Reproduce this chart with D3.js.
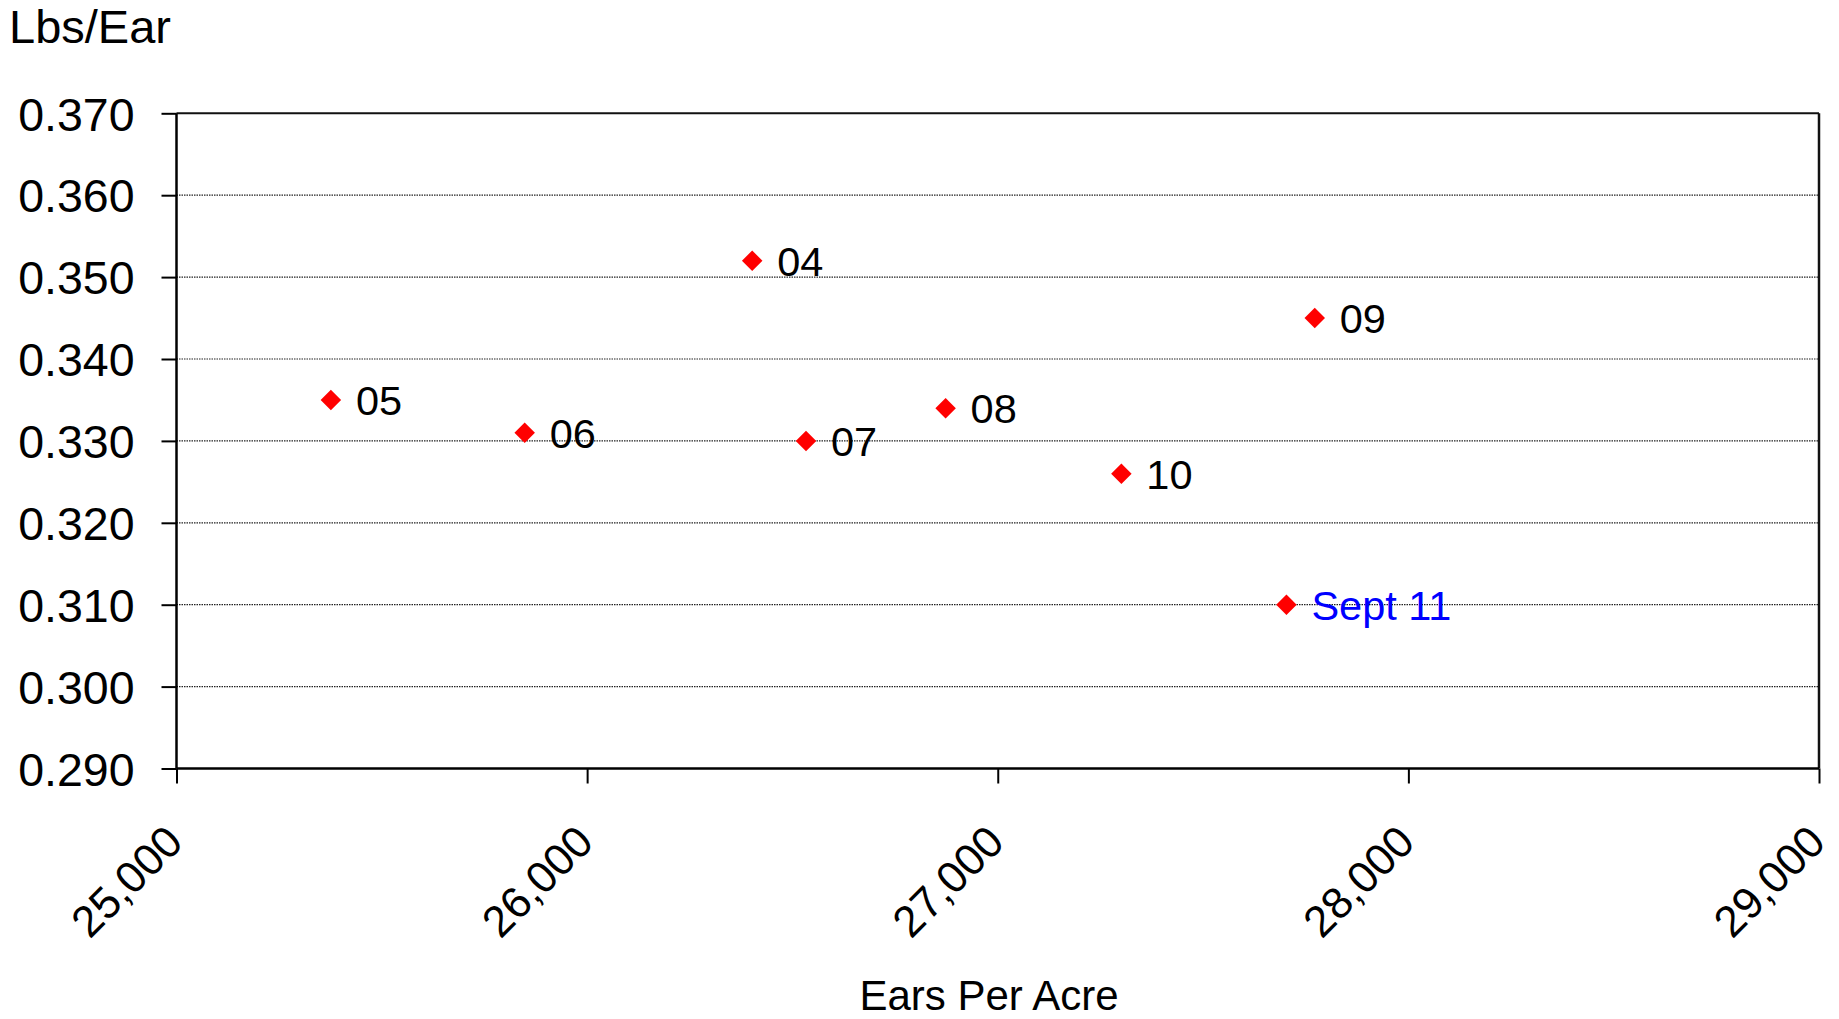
<!DOCTYPE html>
<html>
<head>
<meta charset="utf-8">
<script src="https://cdn.jsdelivr.net/npm/d3@7"></script>
<style>
  body { margin: 0; background: #fff; }
  text { font-family: "Liberation Sans", Arial, sans-serif; }
</style>
</head>
<body>
<svg id="chart" width="1839" height="1019"></svg>
<script>
// data
var labels = ["04", "05", "06", "07", "08", "09", "10", "Sept 11"];
var earsPerAcre = [26402, 25376, 25848, 26533, 26873, 27772, 27301, 27703];
var lbsPerEar = [0.352, 0.335, 0.331, 0.330, 0.334, 0.345, 0.326, 0.310];
var labelColors = ["#000", "#000", "#000", "#000", "#000", "#000", "#000", "#0000ff"];

var xTicks = [25000, 26000, 27000, 28000, 29000];
var yTicks = [0.290, 0.300, 0.310, 0.320, 0.330, 0.340, 0.350, 0.360, 0.370];

var plotLeft = 176.5, plotRight = 1819, plotTop = 113.3, plotBottom = 768.5;

var svg = d3.select('#chart');

var x = d3.scaleLinear().domain([25000, 29000]).range([plotLeft, plotRight]);
var y = d3.scaleLinear().domain([0.290, 0.370]).range([plotBottom, plotTop]);

var points = labels.map(function(l, i) {
	return {label: l, ex: earsPerAcre[i], lb: lbsPerEar[i], color: labelColors[i]};
});

// grid lines (dotted)
svg.append('g')
	.selectAll('line')
	.data(yTicks.slice(1, -1))
	.enter()
	.append('line')
	.attr('x1', plotLeft)
	.attr('x2', plotRight)
	.attr('y1', function(d) { return y(d); })
	.attr('y2', function(d) { return y(d); })
	.style('stroke', '#222')
	.style('stroke-width', 1.2)
	.style('stroke-dasharray', '1.5,1');

// top and right border
svg.append('line')
	.attr('x1', plotLeft).attr('x2', plotRight)
	.attr('y1', plotTop).attr('y2', plotTop)
	.style('stroke', '#111').style('stroke-width', 2);
svg.append('line')
	.attr('x1', plotRight).attr('x2', plotRight)
	.attr('y1', plotTop).attr('y2', plotBottom)
	.style('stroke', '#111').style('stroke-width', 2.5);

// y axis
var yAxis = svg.append('g')
	.attr('transform', 'translate(' + plotLeft + ',0)')
	.call(d3.axisLeft(y).tickValues(yTicks).tickFormat(d3.format('.3f')).tickSize(15).tickPadding(27));
yAxis.select('.domain').style('stroke', '#000').style('stroke-width', 2.5)
	.attr('d', 'M0,' + plotTop + 'V' + plotBottom);
yAxis.selectAll('.tick line').style('stroke', '#000').style('stroke-width', 2);
yAxis.selectAll('.tick text')
	.style('font-size', '46.5px')
	.style('fill', '#000')
	.attr('dy', '0.36em');

// x axis
var xAxis = svg.append('g')
	.attr('transform', 'translate(0,' + plotBottom + ')')
	.call(d3.axisBottom(x).tickValues(xTicks).tickFormat(d3.format(',')).tickSize(15));
xAxis.select('.domain').style('stroke', '#000').style('stroke-width', 2.5)
	.attr('d', 'M' + plotLeft + ',0H' + plotRight);
xAxis.selectAll('.tick line').style('stroke', '#000').style('stroke-width', 2);
xAxis.selectAll('.tick text')
	.style('font-size', '44px')
	.style('fill', '#000')
	.attr('text-anchor', 'end')
	.attr('x', 0)
	.attr('y', 0)
	.attr('dy', 0)
	.attr('transform', 'translate(8,76) rotate(-45)');

// axis titles
svg.append('text')
	.attr('x', 9)
	.attr('y', 43)
	.style('font-size', '47px')
	.text('Lbs/Ear');

svg.append('text')
	.attr('x', 989)
	.attr('y', 1010)
	.attr('text-anchor', 'middle')
	.style('font-size', '42px')
	.text('Ears Per Acre');

// markers
svg.append('g')
	.selectAll('path')
	.data(points)
	.enter()
	.append('path')
	.attr('d', d3.symbol().type(d3.symbolSquare).size(210))
	.attr('transform', function(d) {
		return 'translate(' + x(d.ex) + ',' + y(d.lb) + ') rotate(45)';
	})
	.style('fill', '#ff0000');

// point labels
svg.append('g')
	.selectAll('text')
	.data(points)
	.enter()
	.append('text')
	.attr('x', function(d) { return x(d.ex) + 25; })
	.attr('y', function(d) { return y(d.lb) + 15; })
	.style('font-size', '41.5px')
	.style('fill', function(d) { return d.color; })
	.text(function(d) { return d.label; });
</script>
</body>
</html>
